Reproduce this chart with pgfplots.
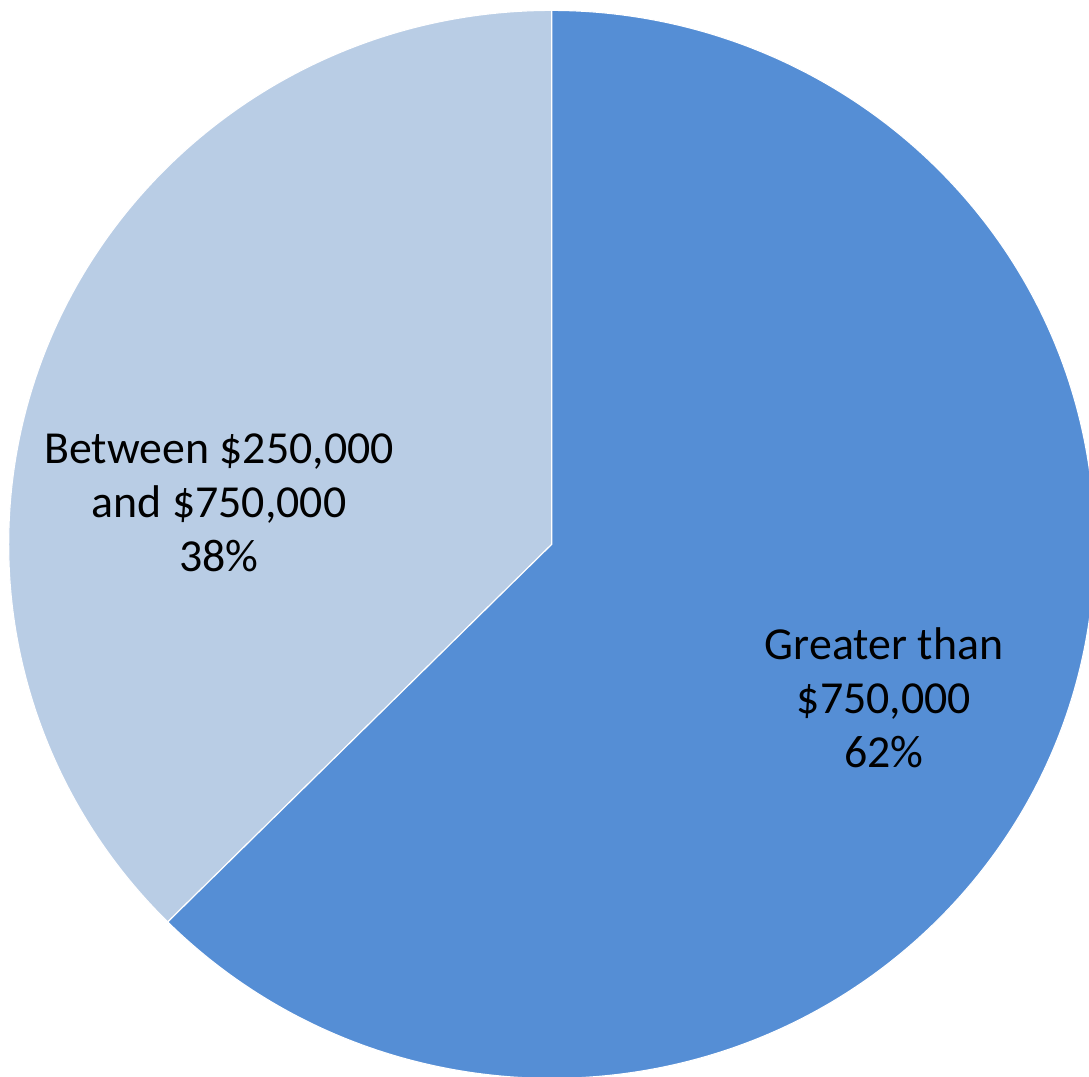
\documentclass[border=0pt]{standalone}
\usepackage{pgfplots}
\usepackage{pgfplotstable}
\pgfplotsset{compat=1.18}
\usepackage{fontspec}
\setmainfont{Carlito}
\definecolor{lightslice}{HTML}{B9CDE5}
\definecolor{darkslice}{HTML}{558ED5}
\pgfplotstableread{
share
37.5
62.5
}\piedata
\begin{document}
\begin{tikzpicture}
\pgfplotstablegetelem{0}{share}\of\piedata \let\va\pgfplotsretval
\pgfplotstablegetelem{1}{share}\of\piedata \let\vb\pgfplotsretval
\begin{axis}[width=392pt,height=387.68pt,scale only axis,hide axis,
  xmin=-1.016,xmax=0.9895,ymin=-0.9974,ymax=1.0195,clip mode=global]
\pgfmathsetmacro\aa{90}
\pgfmathsetmacro\ab{90+3.6*\va}
\pgfmathsetmacro\ac{\ab+3.6*\vb}
\fill[lightslice,draw=white,line width=0.4pt] (axis cs:0,0) -- (axis cs:{cos(\aa)},{sin(\aa)}) arc[start angle=\aa,end angle=\ab,x radius=1,y radius=1] -- cycle;
\fill[darkslice,draw=white,line width=0.4pt] (axis cs:0,0) -- (axis cs:{cos(\ab)},{sin(\ab)}) arc[start angle=\ab,end angle=\ac,x radius=1,y radius=1] -- cycle;
\node[align=center,font=\fontsize{16.5}{19.4}\selectfont] at (axis cs:-0.6127,0.0775) {Between \$250,000\\and \$750,000\\38\%};
\node[align=center,font=\fontsize{16.5}{19.4}\selectfont] at (axis cs:0.612,-0.2876) {Greater than\\\$750,000\\62\%};
\end{axis}
\pgfresetboundingbox
\useasboundingbox (current axis.south west) rectangle (current axis.north east);
\end{tikzpicture}
\end{document}
